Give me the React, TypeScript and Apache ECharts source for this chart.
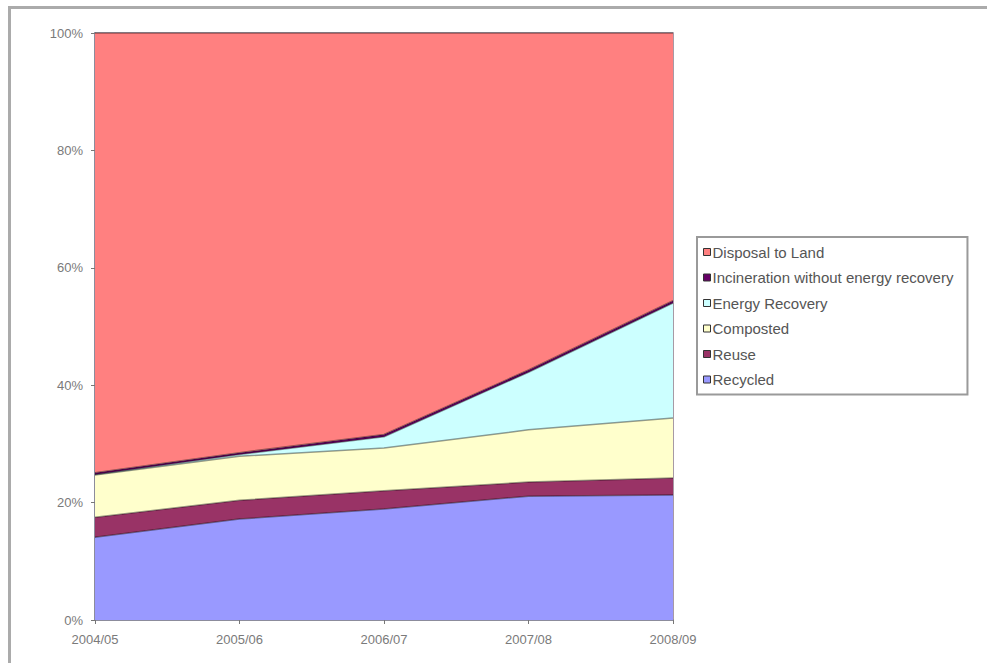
import React, { useEffect, useRef } from "react";
import * as echarts from "echarts";

// Financial years on the horizontal axis
const years = ["2004/05", "2005/06", "2006/07", "2007/08", "2008/09"];

// Share of waste by management route, percent of total per year
const recycled = [14.1, 17.2, 18.9, 21.1, 21.3];
const reuse = [3.4, 3.2, 3.1, 2.4, 2.9];
const composted = [7.2, 7.5, 7.3, 8.9, 10.2];
const energyRecovery = [0.1, 0.3, 1.9, 9.8, 19.6];
const incineration = [0.3, 0.3, 0.4, 0.4, 0.4];
const disposalToLand = [74.9, 71.5, 68.4, 57.4, 45.6];

const yTicks = [0, 20, 40, 60, 80, 100];

// Stacking order, bottom to top, with classic spreadsheet palette
const seriesDefs = [
  { name: "Recycled", data: recycled, color: "#9999FF" },
  { name: "Reuse", data: reuse, color: "#993366" },
  { name: "Composted", data: composted, color: "#FFFFCC" },
  { name: "Energy Recovery", data: energyRecovery, color: "#CCFFFF" },
  { name: "Incineration without energy recovery", data: incineration, color: "#660066" },
  { name: "Disposal to Land", data: disposalToLand, color: "#FF8080" },
];

export default function App() {
  const ref = useRef<HTMLDivElement>(null);

  useEffect(() => {
    if (!ref.current) return;
    const chart = echarts.init(ref.current, undefined, { renderer: "svg" });
    const font = "'Liberation Sans', Arial, sans-serif";

    chart.setOption({
      animation: false,
      backgroundColor: "#ffffff",
      textStyle: { fontFamily: font },
      grid: {
        left: 95,
        right: 314,
        top: 33,
        bottom: 43,
        show: true,
        borderColor: "#8a7a88",
        borderWidth: 1.5,
        backgroundColor: "transparent",
      },
      xAxis: {
        type: "category",
        data: years,
        boundaryGap: false,
        axisLine: { lineStyle: { color: "#8c8c9c", width: 2 } },
        axisTick: { show: true, length: 4, lineStyle: { color: "#777777" } },
        axisLabel: { color: "#7a7a7a", fontSize: 13, margin: 13, fontFamily: font },
        splitLine: { show: false },
      },
      yAxis: {
        type: "value",
        min: yTicks[0],
        max: yTicks[yTicks.length - 1],
        interval: 20,
        axisLine: { show: true, lineStyle: { color: "#8c8c9c", width: 2 } },
        axisTick: { show: true, length: 4, lineStyle: { color: "#777777" } },
        axisLabel: { color: "#7a7a7a", fontSize: 13, margin: 12, formatter: "{value}%", fontFamily: font },
        splitLine: { show: false },
      },
      legend: {
        orient: "vertical",
        left: 697,
        top: 237,
        padding: [7, 14, 7, 6],
        itemGap: 9.5,
        itemWidth: 7,
        itemHeight: 7,
        icon: "rect",
        borderColor: "#9a9a9a",
        borderWidth: 2,
        backgroundColor: "#ffffff",
        itemStyle: { borderColor: "#333", borderWidth: 1 },
        textStyle: { color: "#555555", fontSize: 15, lineHeight: 16, padding: [0, 0, 0, -3], fontFamily: font },
        data: [...seriesDefs].reverse().map((s) => s.name),
      },
      graphic: [
        {
          type: "rect",
          silent: true,
          shape: { x: 9.5, y: 7.5, width: 1000, height: 700 },
          style: { fill: "none", stroke: "#ababab", lineWidth: 3 },
          z: 100,
        },
      ],
      series: seriesDefs.map((s) => ({
        name: s.name,
        type: "line",
        stack: "total",
        data: s.data,
        showSymbol: false,
        symbol: "none",
        color: s.color,
        lineStyle: { color: "#000", width: 1.5, opacity: 0.4 },
        areaStyle: { color: s.color, opacity: 1 },
      })),
    });

    return () => chart.dispose();
  }, []);

  return (
    <div
      ref={ref}
      style={{ position: "absolute", left: 0, top: 0, width: 987, height: 663 }}
    />
  );
}
